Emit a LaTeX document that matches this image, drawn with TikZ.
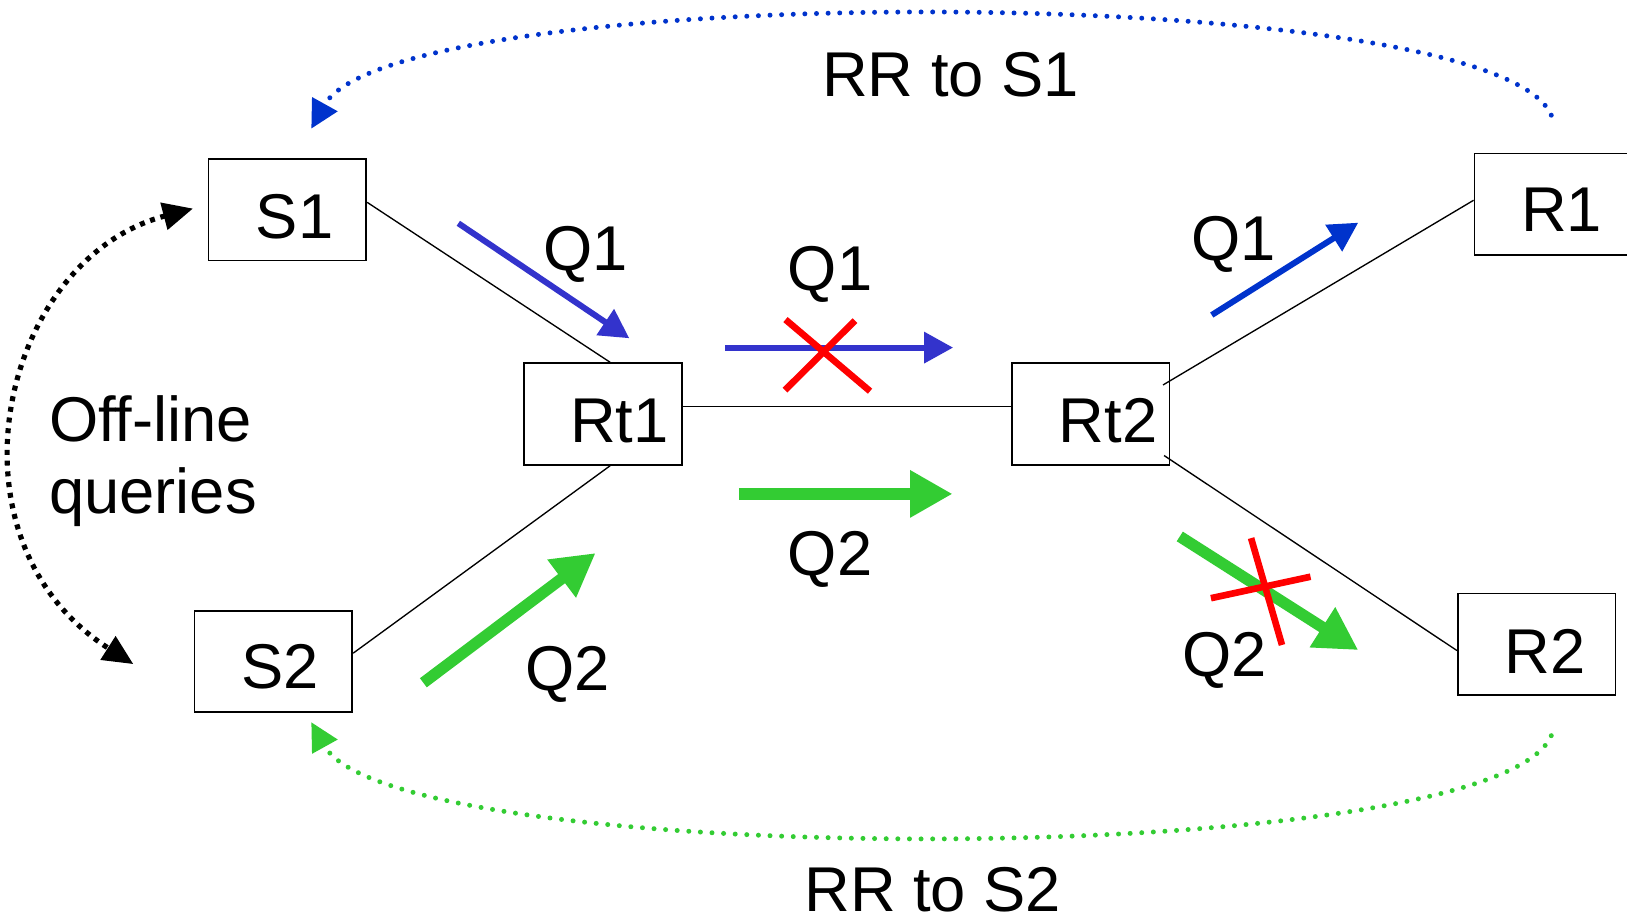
\documentclass[tikz,border=0pt]{standalone}
\usepackage{fontspec}
\setmainfont{Liberation Sans}
\usetikzlibrary{arrows.meta,calc}

\definecolor{qblue}{RGB}{51,51,204}
\definecolor{rblue}{RGB}{0,51,204}
\definecolor{qgreen}{RGB}{51,204,51}
\definecolor{xred}{RGB}{255,0,0}

\begin{document}
\begin{tikzpicture}[x=0.5pt,y=-0.5pt,
  font=\fontsize{30.5}{36}\selectfont,
  box/.style={draw=black,line width=0.85pt,minimum width=76pt,minimum height=49pt,inner sep=0pt},
  lbl/.style={inner sep=0pt,anchor=base},
  link/.style={draw=black,line width=0.65pt},
  qthin/.style={line width=2.9pt,-{Triangle[length=14pt,width=14.5pt]}},
  qthick/.style={line width=5.5pt,-{Triangle[length=20.5pt,width=21.5pt]}},
  cross/.style={draw=xred,line width=3.2pt},
  rr/.style={line width=2.4pt,line cap=round,dash pattern=on 0pt off 5.6pt,
    -{Triangle[length=13.5pt,width=13.5pt]}},
  offline/.style={line width=2.5pt,dash pattern=on 2.4pt off 2.8pt,
    {Triangle[length=14.5pt,width=13pt]}-{Triangle[length=14.5pt,width=13pt]}}
]
\useasboundingbox (0,0) rectangle (1568,888);

% hosts and routers
\node[box] (S1)  at (277,202)    {};
\node[box] (S2)  at (263.5,637.5) {};
\node[box] (Rt1) at (581,399)    {};
\node[box] (Rt2) at (1051,399)   {};
\node[box] (R1)  at (1497,197)   {};
\node[box] (R2)  at (1481,621)   {};

\node[lbl] (tS1)  at (284,230)   {S1};
\node[lbl] (tS2)  at (270,663.5) {S2};
\node[lbl] (tRt1) at (597,426)   {Rt1};
\node[lbl] (tRt2) at (1068,426.5) {Rt2};
\node[lbl] (tR1)  at (1505,223.5) {R1};
\node[lbl] (tR2)  at (1489,649)  {R2};

% network links
\draw[link] ($(S1.east)+(0,-7)$)    -- ($(Rt1.north)+(7,0)$);
\draw[link] ($(S2.east)+(0,-8)$)    -- ($(Rt1.south)+(7,0)$);
\draw[link] ($(Rt1.east)+(0,-7)$)   -- ($(Rt2.west)+(0,-7)$);
\draw[link] ($(Rt2.east)+(-7,-28)$) -- ($(R1.west)+(0,-4)$);
\draw[link] ($(Rt2.east)+(-6,40)$)  -- ($(R2.west)+(0,6)$);

% query Q1 (blue)
\coordinate (q1a-s) at (441.7,215.2);  \coordinate (q1a-e) at (606.5,326);
\coordinate (q1b-s) at (699,335);      \coordinate (q1b-e) at (918.6,335);
\coordinate (q1c-s) at (1167.8,303.6); \coordinate (q1c-e) at (1309,214.6);
\draw[qthin,qblue] (q1a-s) -- (q1a-e);
\draw[qthin,qblue] (q1b-s) -- (q1b-e);
\draw[qthin,rblue] (q1c-s) -- (q1c-e);

% query Q2 (green)
\coordinate (q2a-s) at (408,658);   \coordinate (q2a-e) at (574,533);
\coordinate (q2b-s) at (712,476);   \coordinate (q2b-e) at (918,476);
\coordinate (q2c-s) at (1137,517);  \coordinate (q2c-e) at (1309,626.5);
\draw[qthick,qgreen] (q2a-s) -- (q2a-e);
\draw[qthick,qgreen] (q2b-s) -- (q2b-e);
\draw[qthick,qgreen] (q2c-s) -- (q2c-e);

% dropped queries
\coordinate (x1a) at (757,308);    \coordinate (x1b) at (838.5,377);
\coordinate (x1c) at (824,309);    \coordinate (x1d) at (756.5,376);
\draw[cross] (x1a) -- (x1b);
\draw[cross] (x1c) -- (x1d);
\coordinate (x2a) at (1205.7,518.6); \coordinate (x2b) at (1235.5,621.6);
\coordinate (x2c) at (1167,576.5);   \coordinate (x2d) at (1263,555.8);
\draw[cross] (x2a) -- (x2b);
\draw[cross] (x2c) -- (x2d);

% query labels
\node[lbl] (lq1a) at (564,261)   {Q1};
\node[lbl] (lq1b) at (800,280)   {Q1};
\node[lbl] (lq1c) at (1189,250.6) {Q1};
\node[lbl] (lq2a) at (547,665)   {Q2};
\node[lbl] (lq2b) at (800,555)   {Q2};
\node[lbl] (lq2c) at (1180,652)  {Q2};

% responses back to the sources
\coordinate (rr1-s) at (1495,111); \coordinate (rr1-e) at (300,124);
\coordinate (rr2-s) at (1495,709); \coordinate (rr2-e) at (300,696);
\draw[rr,rblue]  (rr1-s) .. controls (1440,-20) and (380,-20) .. (rr1-e);
\draw[rr,qgreen] (rr2-s) .. controls (1440,840) and (380,840) .. (rr2-e);
\node[lbl] (lrr1) at (916,93)  {RR to S1};
\node[lbl] (lrr2) at (899,878) {RR to S2};

% off-line queries between the sources
\coordinate (off-a) at (186,201); \coordinate (off-b) at (128.5,640);
\draw[offline] (off-a) .. controls (0,250) and (-60,520) .. (off-b);
\node[lbl,anchor=base west] (loff1) at (47,425.7) {Off-line};
\node[lbl,anchor=base west] (loff2) at (47,495)   {queries};

\end{tikzpicture}
\end{document}
